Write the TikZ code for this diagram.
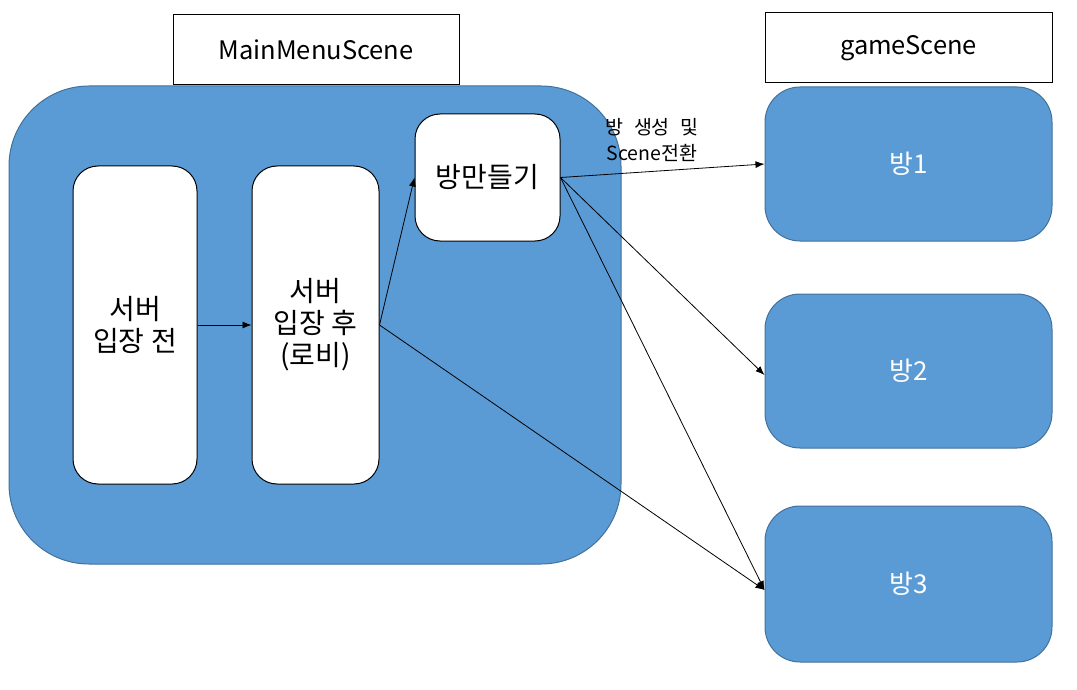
\documentclass[tikz,border=0pt]{standalone}
\usepackage{fontspec}
\setmainfont{Noto Sans CJK KR}
\usetikzlibrary{arrows.meta}
\definecolor{roomblue}{HTML}{5B9BD5}
\definecolor{roomedge}{HTML}{41719C}
\begin{document}
\begin{tikzpicture}[x=1pt,y=-1pt,
    titlebox/.style={draw=black,line width=1pt,fill=white,minimum width=286pt,minimum height=70pt,font=\fontsize{25.5}{30}\selectfont},
    whitebox/.style={draw=black,line width=1pt,fill=white,rounded corners=25pt,align=center,font=\fontsize{28}{32}\selectfont},
    bluebox/.style={draw=roomedge,line width=1pt,fill=roomblue,rounded corners=35pt,minimum width=287pt,text=white,font=\fontsize{26}{30}\selectfont},
    link/.style={line width=0.8pt,-{Latex[length=9pt,width=7pt]}}]
    \useasboundingbox (0,0) rectangle (1077,690);
    \node[draw=roomedge,line width=1pt,fill=roomblue,rounded corners=80pt,minimum width=612pt,minimum height=478pt] (menuarea) at (315,325) {};
    \node[titlebox] (menutitle) at (316,50) {MainMenuScene};
    \node[titlebox,minimum width=287pt] (gametitle) at (908.5,48) {gameScene};
    \node[bluebox,minimum height=154pt] (room1) at (908.5,164) {방1};
    \node[bluebox,minimum height=154pt] (room2) at (908.5,371) {방2};
    \node[bluebox,minimum height=156pt] (room3) at (908.5,584) {방3};
    \node[whitebox,minimum width=124pt,minimum height=318pt] (before) at (135,325) {서버\\입장 전};
    \node[whitebox,minimum width=127pt,minimum height=318pt] (lobby) at (315.5,325) {서버\\입장 후\\(로비)};
    \node[whitebox,minimum width=145pt,minimum height=127pt] (makeroom) at (487.5,177.5) {방만들기};
    \node[align=center,font=\fontsize{19.5}{26}\selectfont] (switchlabel) at (652,140) {방\hspace{6pt} 생성\hspace{6pt} 및\\Scene전환};
    \draw[link] (before.east) -- (lobby.west);
    \draw[link] (lobby.east) -- (makeroom.west);
    \draw[link] (makeroom.east) -- (room1.west);
    \draw[link] (makeroom.east) -- ([yshift=-4pt]room2.west);
    \draw[link] (makeroom.east) -- ([yshift=-6pt]room3.west);
    \draw[link] (lobby.east) -- ([yshift=-6pt]room3.west);
\end{tikzpicture}
\end{document}
